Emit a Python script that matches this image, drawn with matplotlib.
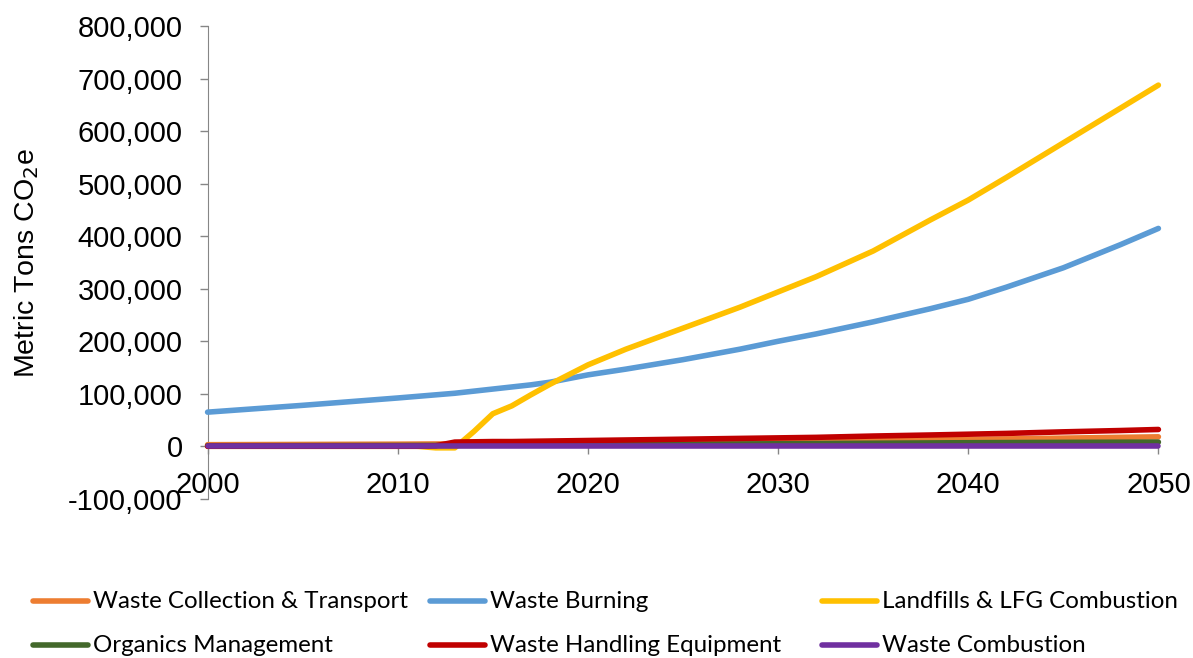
import matplotlib.pyplot as plt
from matplotlib.lines import Line2D
from matplotlib.ticker import FuncFormatter

years = [2000, 2005, 2010, 2011, 2012, 2013, 2014, 2015, 2016, 2017, 2018,
         2020, 2022, 2025, 2028, 2030, 2032, 2035, 2038, 2040, 2042, 2045, 2048, 2050]

collection = [3000, 3500, 4000, 4200, 4400, 4600, 4800, 5000, 5200, 5400, 5600,
              6000, 6600, 7500, 8500, 9000, 9800, 11000, 12300, 13000, 14000, 15500, 17000, 18000]
burning = [65000, 78000, 92000, 95000, 98000, 101000, 105000, 109000, 113000, 117000, 122000,
           136000, 147000, 165000, 185000, 200000, 214000, 237000, 262000, 280000, 303000,
           340000, 384000, 415000]
landfills = [0, 0, 0, 0, -3000, -3000, 28000, 62000, 77000, 98000, 118000,
             155000, 185000, 225000, 265000, 294000, 323000, 372000, 431000, 469000, 512000,
             578000, 644000, 688000]
organics = [1000, 1200, 1500, 1600, 1700, 1800, 1900, 2000, 2100, 2200, 2400,
            2800, 3200, 3800, 4400, 4800, 5200, 5800, 6400, 6800, 7100, 7500, 7800, 8000]
handling = [0, 0, 0, 0, 1000, 8000, 8500, 9000, 9000, 9500, 10000,
            11000, 12000, 13500, 15000, 16000, 17000, 19500, 21500, 23000, 24500, 27500, 30000, 32000]
combustion = [0, 0, 0, 0, 0, 0, 0, 0, 0, 0, 0,
              0, 0, 0, 0, 0, 0, 0, 0, 0, 0, 0, 0, 0]

names = ["Waste Collection & Transport", "Waste Burning", "Landfills & LFG Combustion",
         "Organics Management", "Waste Handling Equipment", "Waste Combustion"]
series = [collection, burning, landfills, organics, handling, combustion]
colors = ["#ED7D31", "#5B9BD5", "#FFC000", "#43682B", "#C00000", "#7030A0"]

plt.rcParams['font.family'] = ['Liberation Sans', 'DejaVu Sans']

fig = plt.figure(figsize=(11.93, 6.58), dpi=100)
ax = fig.add_axes([0.174, 0.242, 0.797, 0.718])

for vals, c, n in zip(series, colors, names):
    ax.plot(years, vals, color=c, lw=4, label=n, solid_capstyle='round',
            solid_joinstyle='round', zorder=3, clip_on=False)

ax.set_xlim(2000, 2050)
ax.set_ylim(-100000, 800000)
ax.set_xticks(range(2000, 2051, 10))
ax.set_yticks(range(-100000, 800001, 100000))
ax.yaxis.set_major_formatter(FuncFormatter(lambda v, p: f"{int(v):,}"))

for s in ['top', 'right']:
    ax.spines[s].set_visible(False)
ax.spines['bottom'].set_position(('data', 0))
ax.spines['left'].set_color('#868686')
ax.spines['bottom'].set_color('#868686')
ax.tick_params(axis='both', colors='#868686', labelcolor='black', labelsize=21,
               direction='out', length=6, width=1)
ax.tick_params(axis='y', pad=12)
ax.tick_params(axis='x', pad=11.5)

ax.set_ylabel("Metric Tons CO$_2$e", fontsize=20.5)
ax.yaxis.set_label_coords(-0.175, 0.50)

# legend, three columns at the bottom
col_x = [33, 430, 822]
row_y = [601, 645]
W, H = 1193, 658
for i, (n, c) in enumerate(zip(names, colors)):
    x0 = col_x[i % 3]
    y0 = row_y[i // 3]
    fig.add_artist(Line2D([x0 / W, (x0 + 55) / W], [1 - y0 / H, 1 - y0 / H],
                          color=c, lw=4, solid_capstyle='round'))
    fig.text((x0 + 60) / W, 1 - y0 / H, n, fontsize=17.4, family=['Lato', 'DejaVu Sans'],
             va='center', ha='left')

fig.savefig("out.png", dpi=100)
